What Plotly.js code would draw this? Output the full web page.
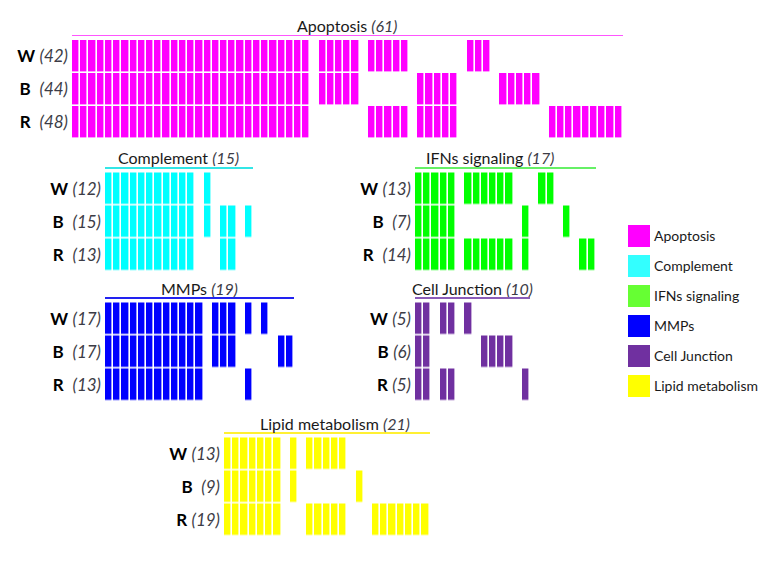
<!DOCTYPE html>
<html><head><meta charset="utf-8">
<script src="https://cdn.plot.ly/plotly-3.0.1.min.js"></script>
<style>html,body{margin:0;padding:0;background:#fff}#chart{width:768px;height:561px}</style>
</head><body><div id="chart"></div>
<script>
// ---------------- DATA ----------------
const groups = ['W', 'B', 'R'];
const panelNames = ['Apoptosis', 'Complement', 'IFNs signaling', 'MMPs', 'Cell Junction', 'Lipid metabolism'];
const panelTotals = [61, 15, 17, 19, 10, 21];

const apoptosisCounts = [42, 44, 48];
const complementCounts = [12, 15, 13];
const ifnsCounts = [13, 7, 14];
const mmpsCounts = [17, 17, 13];
const junctionCounts = [5, 6, 5];
const lipidCounts = [13, 9, 19];

// '#' = gene present, '.' = absent (spaces are only group separators every 10 genes)
const apoptosisCells = [
  '########## ########## #########. #####.#### #.......## #......... .......',
  '########## ########## #########. #####..... ..#####... ..#####... .......',
  '########## ########## #########. ......#### #.#####... ........## #######'
];
const complementCells = [
  '########## #.#.....',
  '########## #.#.##.#',
  '########## #...##..'
];
const ifnsCells = [
  '#####.#### ##...##.....',
  '#####..... ...#....#...',
  '#####.#### ##.#......##'
];
const mmpsCells = [
  '########## ##.###.#.#...',
  '########## ##.###.....##',
  '########## ##.....#.....'
];
const junctionCells = [
  '##.##.#...  ....',
  '##......## ##..',
  '##.##..... ...#'
];
const lipidCells = [
  '#######.#. #####..........',
  '#######.#. ......#........',
  '#######... #####...#######'
];

// spaces between the group letter and its count, as typed in the original labels
const labelSpacing = [[1, 2, 2], [1, 2, 2], [1, 2, 2], [1, 2, 2], [1, 1, 1], [1, 2, 1]];

const cellColors = ['#FF00FF', '#00FFFF', '#00FF00', '#0000FF', '#7030A0', '#FFFF00'];
const lineColors = ['#FF55FF', '#33E6E6', '#66F066', '#2222F0', '#8A5CB8', '#FFF033'];
const legendColors = ['#FF00FF', '#33FFFF', '#66FF33', '#0000FF', '#7030A0', '#FFFF00'];

// ---------------- LAYOUT GEOMETRY (pixels) ----------------
const W = 768, H = 561;
const PITCH = 8.22, ROW = 33, GAP = 4;
const geom = [
  {left: 72, lineY: 36, tShift: 0},
  {left: 105, lineY: 168.5, tShift: 0},
  {left: 415, lineY: 168.5, tShift: -15},
  {left: 105, lineY: 298.5, tShift: 0},
  {left: 415, lineY: 298.5, tShift: 0},
  {left: 224, lineY: 433.5, tShift: 8}
];
const panels = [
  {cells: apoptosisCells, counts: apoptosisCounts},
  {cells: complementCells, counts: complementCounts},
  {cells: ifnsCells, counts: ifnsCounts},
  {cells: mmpsCells, counts: mmpsCounts},
  {cells: junctionCells, counts: junctionCounts},
  {cells: lipidCells, counts: lipidCounts}
];

const FONT = 'Lato, "Open Sans", sans-serif';
const traces = [];
const layout = {
  width: W, height: H,
  margin: {l: 0, r: 0, t: 0, b: 0},
  paper_bgcolor: '#fff', plot_bgcolor: 'rgba(0,0,0,0)',
  showlegend: false,
  font: {family: FONT, color: '#1a1a1a'},
  annotations: []
};

panels.forEach((p, i) => {
  const k = i + 1;
  const xs = 'x' + (k === 1 ? '' : k), ys = 'y' + (k === 1 ? '' : k);
  const xa = 'xaxis' + (k === 1 ? '' : k), ya = 'yaxis' + (k === 1 ? '' : k);
  const rows = p.cells.map(s => s.replace(/ /g, '').split('').map(c => c === '#' ? 1 : null));
  const n = rows[0].length;
  traces.push({
    type: 'heatmap', z: rows, xaxis: xs, yaxis: ys,
    zmin: 0, zmax: 1, showscale: false, hoverinfo: 'skip',
    colorscale: [[0, cellColors[i]], [1, cellColors[i]]],
    xgap: 1.6, ygap: 1.6
  });
  const g = geom[i];
  layout[xa] = {
    domain: [g.left / W, (g.left + n * PITCH) / W],
    range: [-0.5, n - 0.5], anchor: ys, side: 'top',
    showline: true, linecolor: lineColors[i], linewidth: 1.5,
    showticklabels: false, ticks: '', showgrid: false, zeroline: false, fixedrange: true
  };
  layout[ya] = {
    domain: [1 - (g.lineY + GAP + 3 * ROW) / H, 1 - g.lineY / H],
    range: [2.5, -0.5 - GAP / ROW], anchor: xs,
    tickvals: [0, 1, 2],
    ticktext: groups.map((gr, j) => '<b>' + gr + '</b>' + '\u00a0'.repeat(labelSpacing[i][j]) +
      '<i><span style="color:#3c3c46">(' + p.counts[j] + ')</span></i>'),
    ticks: '', ticklabelstandoff: 3,
    tickfont: {family: FONT, size: 17, color: '#000'},
    showgrid: false, zeroline: false, showline: false, fixedrange: true
  };
  layout.annotations.push({
    xref: xs + ' domain', yref: ys + ' domain', x: 0.5, y: 1,
    xanchor: 'center', yanchor: 'bottom', xshift: g.tShift, yshift: -1,
    showarrow: false,
    text: panelNames[i] + ' <i><span style="color:#3c3c46">(' + panelTotals[i] + ')</span></i>',
    font: {family: FONT, size: 16, color: '#1a1a1a'}
  });
});

// Legend drawn as a one-column heatmap with labels on its right axis
traces.push({
  type: 'heatmap', z: panelNames.map((_, i) => [i]), xaxis: 'x7', yaxis: 'y7',
  zmin: 0, zmax: 5, showscale: false, hoverinfo: 'skip',
  colorscale: legendColors.map((c, i) => [i / 5, c]),
  ygap: 8
});
layout.xaxis7 = {
  domain: [628 / W, 650 / W], range: [-0.5, 0.5], anchor: 'y7',
  showticklabels: false, ticks: '', showgrid: false, zeroline: false, showline: false, fixedrange: true
};
layout.yaxis7 = {
  domain: [1 - 401 / H, 1 - 221 / H], range: [5.5, -0.5], anchor: 'x7', side: 'right',
  tickvals: panelNames.map((_, i) => i), ticktext: panelNames,
  ticks: '', ticklabelstandoff: 3,
  tickfont: {family: FONT, size: 14, color: '#1a1a1a'},
  showgrid: false, zeroline: false, showline: false, fixedrange: true
};

Plotly.newPlot('chart', traces, layout, {displayModeBar: false, staticPlot: true});
</script>
</body></html>
